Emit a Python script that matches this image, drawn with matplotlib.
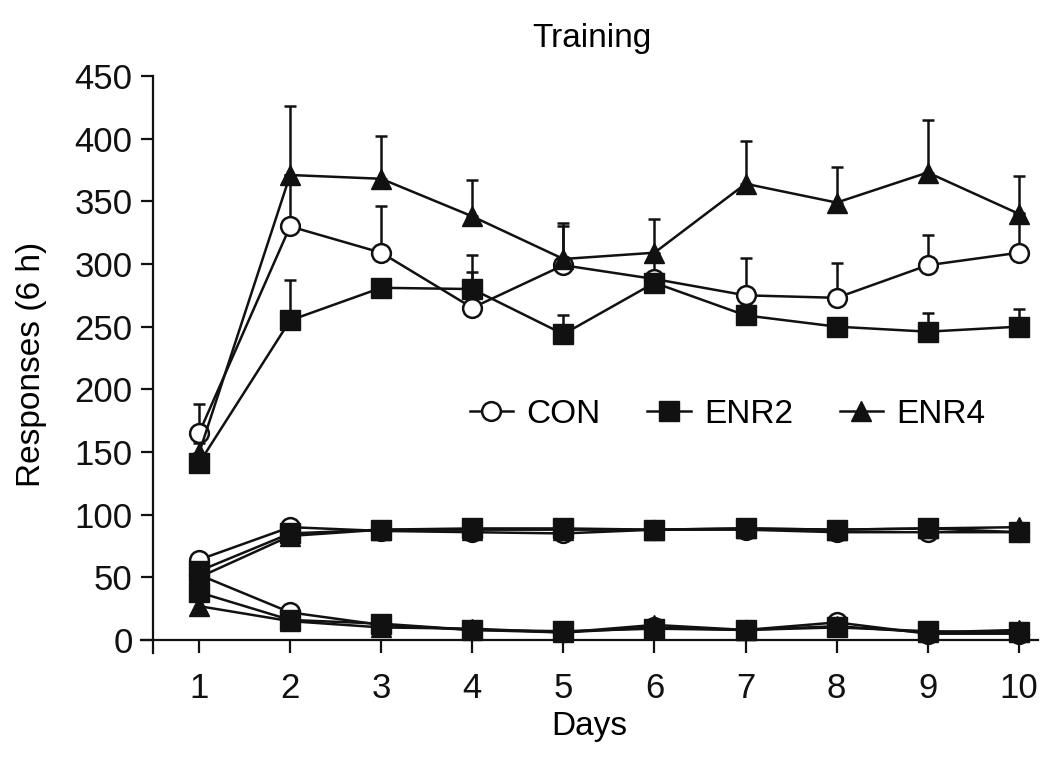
import matplotlib
matplotlib.use("Agg")
import matplotlib.pyplot as plt
import numpy as np

plt.rcParams['font.family'] = ['Liberation Sans', 'DejaVu Sans']

days = [1, 2, 3, 4, 5, 6, 7, 8, 9, 10]

# total responses (6 h), mean and upper error
con_resp = [165, 330, 309, 265, 299, 288, 275, 273, 299, 309]
con_err = [23, 41, 37, 29, 31, 20, 30, 28, 24, 32]
enr2_resp = [141, 255, 281, 280, 244, 285, 259, 250, 246, 250]
enr2_err = [6, 32, 7, 27, 15, 8, 8, 7, 15, 14]
enr4_resp = [149, 371, 368, 338, 304, 309, 364, 349, 373, 340]
enr4_err = [8, 55, 34, 29, 29, 27, 34, 28, 42, 30]

# lower groups (two response types per group)
con_hi = [64, 90, 87, 86, 85, 88, 88, 86, 86, 86]
con_lo = [52, 22, 12, 8, 6, 10, 8, 14, 5, 5]
enr2_hi = [55, 85, 88, 89, 89, 88, 89, 88, 89, 86]
enr2_lo = [38, 16, 13, 8, 7, 9, 8, 10, 7, 6]
enr4_hi = [50, 83, 88, 88, 88, 88, 89, 88, 89, 90]
enr4_lo = [27, 15, 10, 9, 6, 12, 8, 11, 6, 8]

fig = plt.figure(figsize=(10.5, 7.66), dpi=100)
ax = fig.add_axes([141/1050, 1-653/766, 897/1050, 577/766])

styles = {
    'CON': dict(marker='o', mfc='white', mec='#111111', ms=13.5, mew=1.8),
    'ENR2': dict(marker='s', mfc='#111111', mec='#111111', ms=14),
    'ENR4': dict(marker='^', mfc='#111111', mec='#111111', ms=15),
}

def draw(y, err, name, label=None):
    st = styles[name]
    if err is not None:
        ax.errorbar(days, y, yerr=[np.zeros(len(err)), err], fmt='none',
                    ecolor='#111111', elinewidth=1.8, capsize=4, capthick=1.8, zorder=2)
    ax.plot(days, y, color='#111111', lw=1.8, zorder=3, label=label, **st)

# lower clusters first
for y, n in [(con_hi, 'CON'), (con_lo, 'CON'), (enr2_hi, 'ENR2'), (enr2_lo, 'ENR2'),
             (enr4_hi, 'ENR4'), (enr4_lo, 'ENR4')]:
    draw(y, None, n)

draw(con_resp, con_err, 'CON', 'CON')
draw(enr2_resp, enr2_err, 'ENR2', 'ENR2')
draw(enr4_resp, enr4_err, 'ENR4', 'ENR4')

ax.set_xlim(0.363, 10.21)
ax.set_ylim(-10.4, 450)
ax.spines['top'].set_visible(False)
ax.spines['right'].set_visible(False)
ax.spines['bottom'].set_position(('data', 0))
ax.spines['left'].set_position(('data', 0.5))
for s in ['bottom', 'left']:
    ax.spines[s].set_linewidth(1.6)
    ax.spines[s].set_color('#111111')
ax.set_xticks(days)
ax.set_yticks(np.arange(0, 451, 50))
ax.tick_params(direction='out', length=9, width=1.6, labelsize=25, colors='#111111', pad=6)
ax.tick_params(axis='x', pad=14)

ax.set_xlabel('Days', fontsize=24)
ax.set_ylabel('Responses (6 h)', fontsize=24)
ax.yaxis.set_label_coords(-0.105, 0.5)
ax.xaxis.set_label_coords(0.5, -0.1)
fig.text(0.5635, 1-38/766, 'Training', ha='center', va='center', fontsize=24)

ax.legend(loc='center', bbox_to_anchor=(0.654, 0.414), ncol=3, frameon=False,
          fontsize=24, handlelength=1.3, columnspacing=1.4, handletextpad=0.4)

fig.savefig('out.png', dpi=100)
